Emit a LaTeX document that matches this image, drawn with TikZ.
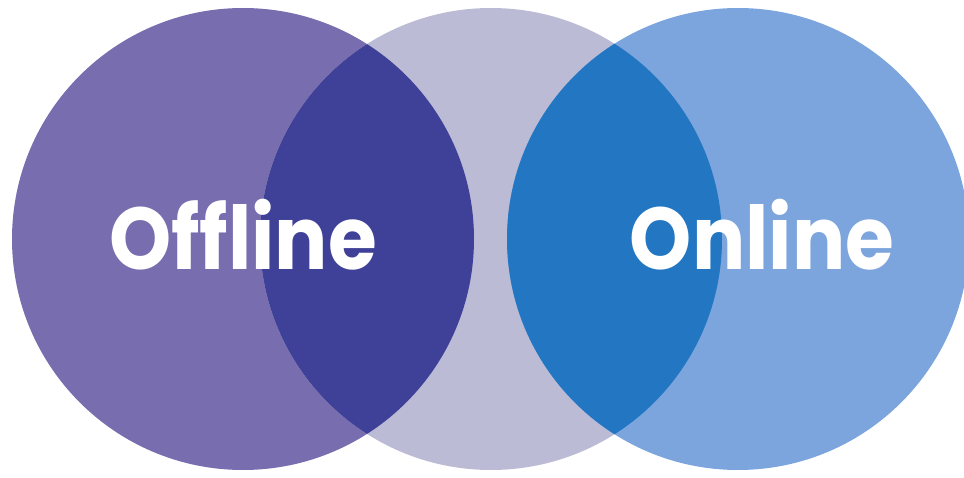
\documentclass[tikz,border=0pt]{standalone}
\usepackage{fontspec}
\newfontfamily\labelfont{Poppins}[FakeStretch=0.9]
\usepackage{xcolor}
\definecolor{offpurple}{HTML}{786DAE}
\definecolor{midgrey}{HTML}{BBBBD5}
\definecolor{onblue}{HTML}{7BA5DC}
\definecolor{leftmix}{HTML}{3E4197}
\definecolor{rightmix}{HTML}{2276C2}

\begin{document}
\begin{tikzpicture}[x=0.02cm, y=0.02cm]
\useasboundingbox (0,0) rectangle (964,477);
\clip (0,0) rectangle (964,477);
\coordinate (cl) at (243,238);
\coordinate (cm) at (491,238);
\coordinate (cr) at (738,238);
\fill[offpurple] (cl) circle (231);
\fill[midgrey] (cm) circle (231);
\fill[onblue] (cr) circle (231);
\begin{scope}
 \clip (cl) circle (231);
 \fill[leftmix] (cm) circle (231);
\end{scope}
\begin{scope}
 \clip (cr) circle (231);
 \fill[rightmix] (cm) circle (231);
\end{scope}
\node[white, font=\labelfont\bfseries\fontsize{50}{50}\selectfont] (offline) at (243,242) {Offline};
\node[white, font=\labelfont\bfseries\fontsize{50}{50}\selectfont] (online) at (762,242) {Online};
\end{tikzpicture}
\end{document}
